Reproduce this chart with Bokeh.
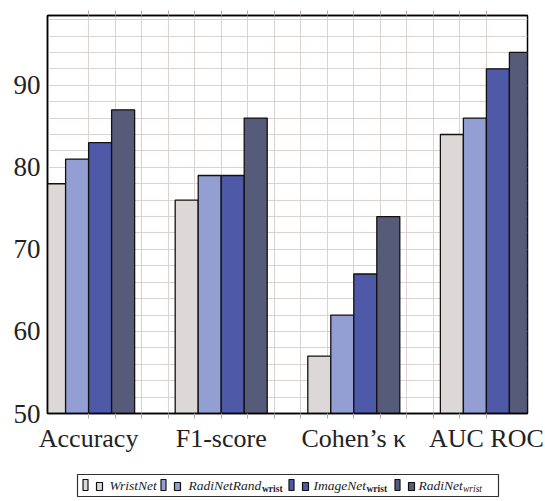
from bokeh.plotting import figure
from bokeh.models import Range1d, FixedTicker, LinearAxis, ColumnDataSource
from bokeh.layouts import column
from bokeh.core.properties import value
from bokeh.embed import file_html
from bokeh.resources import INLINE

# ---- data ----
categories = ["Accuracy", "F1-score", "Cohen\u2019s \u03ba", "AUC ROC"]
series_names = ["WristNet", "RadiNetRand", "ImageNet", "RadiNet"]
series_subs = ["", "wrist", "wrist", "wrist"]
wristnet = [78, 76, 57, 84]
radinetrand = [81, 79, 62, 86]
imagenet = [83, 79, 67, 92]
radinet = [87, 86, 74, 94]
y_ticks = [50, 60, 70, 80, 90]

series = [wristnet, radinetrand, imagenet, radinet]
colors = ["#dcd8d7", "#939ed2", "#4e59a7", "#575b7a"]
grid_color = "#dcd2d2"
tick_color = "#b8a8a8"
FONT = "Liberation Serif"

# ---- main figure ----
p = figure(width=545, height=460, output_backend="svg", toolbar_location=None,
           x_range=Range1d(0.69, 4.31), y_range=Range1d(50, 98.5),
           min_border_left=47, min_border_right=18, min_border_top=15,
           min_border_bottom=47, x_axis_location=None, y_axis_location=None)
p.background_fill_color = "white"
p.border_fill_color = "white"
p.outline_line_color = "black"
p.outline_line_width = 1.5

xs = list(range(1, len(categories) + 1))
all_x = [round(1 + 0.2 * i, 2) for i in range(16)]
minor_x = [v for v in all_x if v not in xs]
xticker = FixedTicker(ticks=xs, minor_ticks=minor_x)
top_ticker = FixedTicker(ticks=[], minor_ticks=all_x)
yticker = FixedTicker(ticks=y_ticks, minor_ticks=list(range(50, 99, 2)))

xaxis = LinearAxis(ticker=xticker)
xaxis.major_label_overrides = {i: c for i, c in zip(xs, categories)}
xaxis.major_label_text_font = FONT
xaxis.major_label_text_font_size = "26px"
xaxis.major_label_text_color = "#222222"
xaxis.major_label_standoff = 5
xaxis.major_tick_in = 0
xaxis.major_tick_out = 5
xaxis.minor_tick_in = 0
xaxis.minor_tick_out = 5
xaxis.major_tick_line_color = tick_color
xaxis.minor_tick_line_color = tick_color
xaxis.axis_line_color = "black"
xaxis.axis_line_width = 1.5
p.add_layout(xaxis, "below")

top_axis = LinearAxis(ticker=top_ticker)
top_axis.major_label_standoff = 0
top_axis.major_tick_in = 0
top_axis.major_tick_out = 0
top_axis.minor_tick_in = 0
top_axis.minor_tick_out = 5
top_axis.minor_tick_line_color = tick_color
top_axis.axis_line_color = "black"
top_axis.axis_line_width = 1.5
p.add_layout(top_axis, "above")

yaxis = LinearAxis(ticker=yticker)
yaxis.major_label_text_font = FONT
yaxis.major_label_text_font_size = "27px"
yaxis.major_label_text_color = "#222222"
yaxis.major_label_standoff = 7
yaxis.major_tick_in = 0
yaxis.major_tick_out = 0
yaxis.minor_tick_in = 0
yaxis.minor_tick_out = 0
yaxis.axis_line_color = "black"
yaxis.axis_line_width = 1.5
p.add_layout(yaxis, "left")

p.xgrid.ticker = xticker
p.ygrid.ticker = yticker
for g in (p.xgrid, p.ygrid):
    g.grid_line_color = grid_color
    g.minor_grid_line_color = grid_color
    g.grid_line_width = 1
    g.minor_grid_line_width = 1

bar_w = 0.1735
n = len(series)
for k, (vals, col) in enumerate(zip(series, colors)):
    off = (k - (n - 1) / 2) * bar_w
    src = ColumnDataSource(dict(x=[x + off for x in xs], top=vals))
    p.vbar(x="x", top="top", bottom=0, width=bar_w, source=src,
           fill_color=col, line_color="#111111", line_width=1.3)

# ---- legend figure (frame aligned with main frame; coordinates in page pixels) ----
lg = figure(width=545, height=40, output_backend="svg", toolbar_location=None,
            x_range=Range1d(47, 527), y_range=Range1d(500, 460),
            min_border_left=47, min_border_right=18, min_border_top=0, min_border_bottom=0,
            x_axis_location=None, y_axis_location=None)
lg.outline_line_color = None
lg.xgrid.visible = False
lg.ygrid.visible = False
lg.background_fill_color = "white"
lg.border_fill_color = "white"

lg.quad(left=[77], right=[498], top=[474], bottom=[496],
        fill_color="white", line_color="#333333", line_width=1.2)

tall_x = [85, 163, 291, 397]
name_x = [109, 188, 313, 418]
sub_x = [None, 261.5, 366, 462.5]
yc = 485
for i in range(n):
    lg.quad(left=[tall_x[i] - 2.5], right=[tall_x[i] + 2.5], top=[yc - 6], bottom=[yc + 5],
            fill_color=colors[i], line_color="#111111", line_width=1.2)
    lg.quad(left=[tall_x[i] + 11], right=[tall_x[i] + 17], top=[yc - 3], bottom=[yc + 5],
            fill_color=colors[i], line_color="#111111", line_width=1.2)
lg.text(x=name_x, y=[yc] * n, text=series_names, text_font=value(FONT),
        text_font_style="italic", text_font_size="13.5px", text_baseline="middle",
        text_color="#222222")
for i in range(n):
    if series_subs[i]:
        lg.text(x=[sub_x[i]], y=[yc + 3], text=[series_subs[i]], text_font=value(FONT),
                text_font_style="italic" if i == n - 1 else "bold",
                text_font_size="9.5px", text_baseline="middle", text_color="#222222")

layout = column(p, lg, spacing=0)
open("out.html", "w").write(file_html(layout, INLINE))
